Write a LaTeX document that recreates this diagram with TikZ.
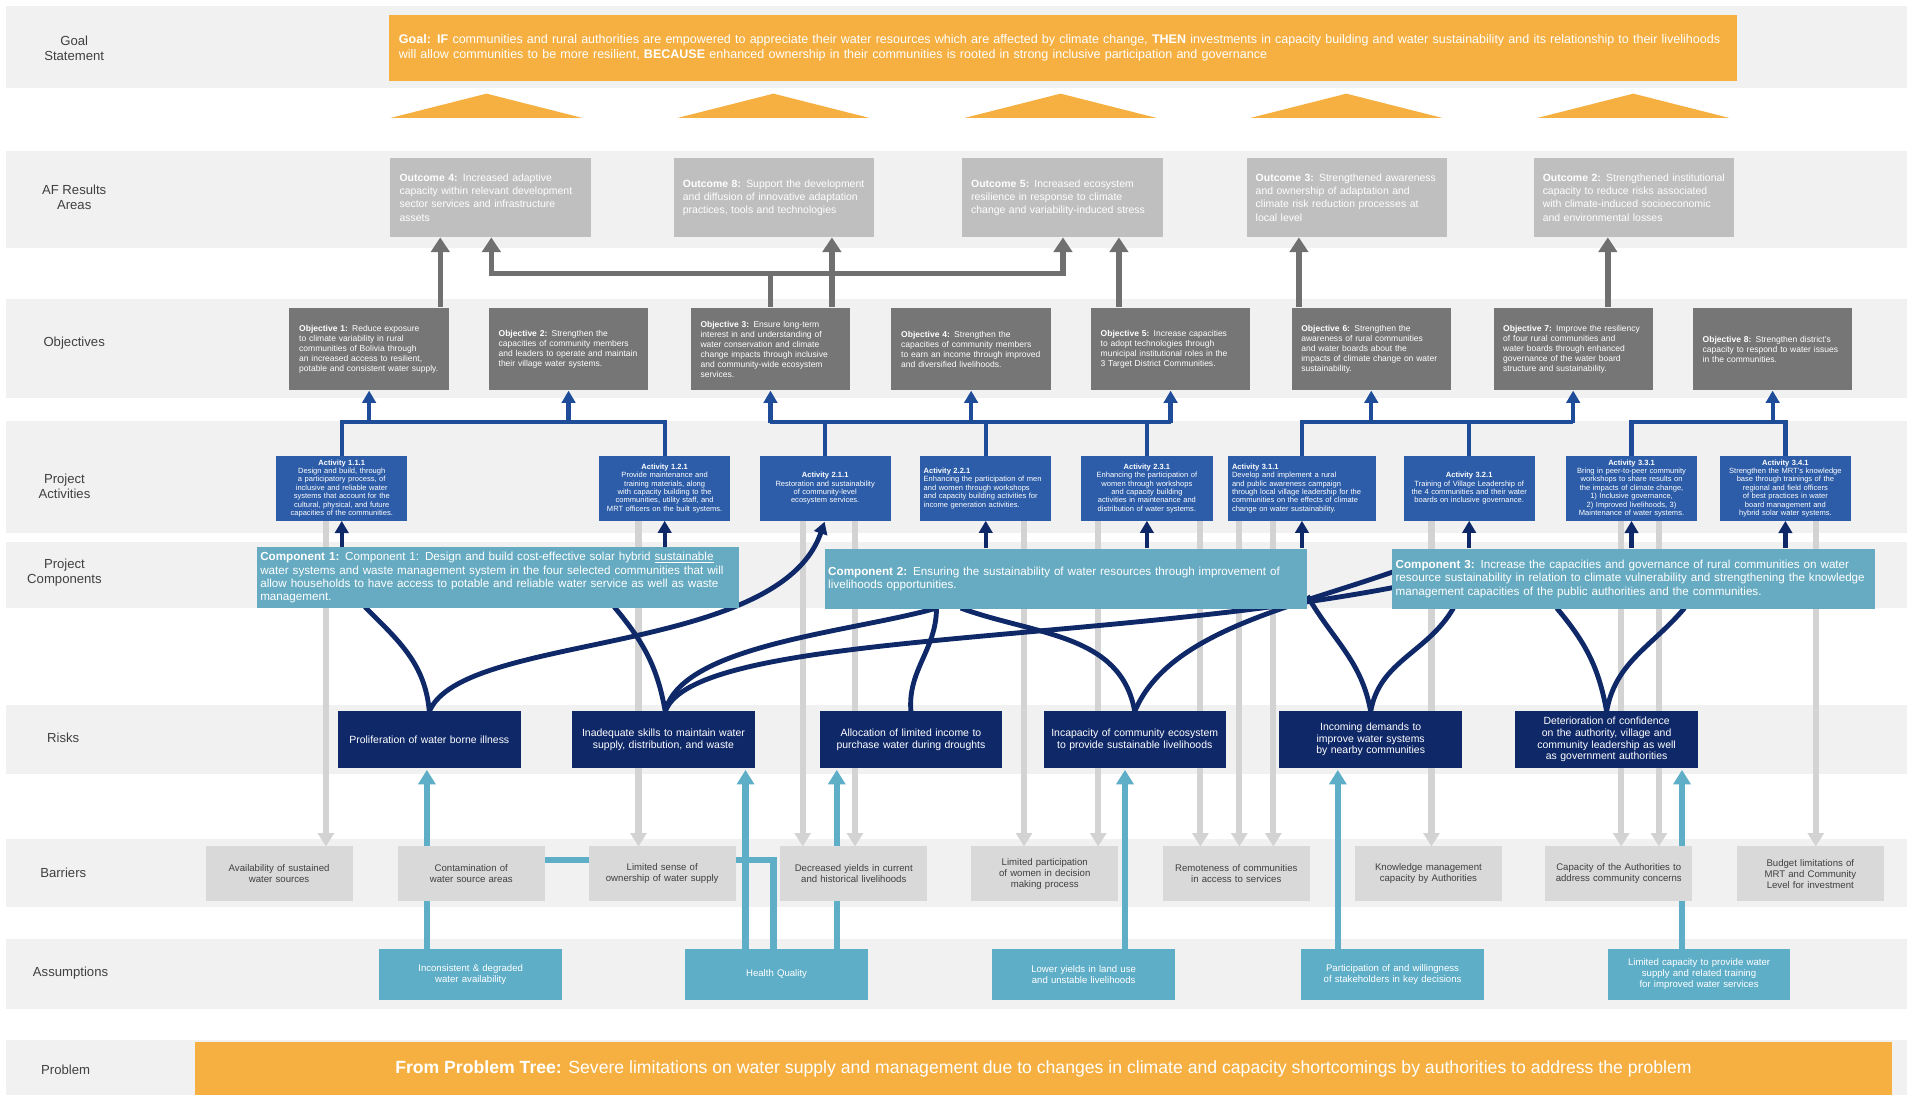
\documentclass[tikz,border=0pt]{standalone}
\usepackage{fontspec}
\setmainfont{Liberation Sans}
\usetikzlibrary{arrows.meta,positioning,calc}
\hyphenpenalty=10000
\exhyphenpenalty=10000

\definecolor{bandgray}{RGB}{241,241,241}
\definecolor{labelgray}{RGB}{64,64,64}
\definecolor{goalorange}{RGB}{245,176,65}
\definecolor{outgray}{RGB}{191,191,191}
\definecolor{objgray}{RGB}{118,118,118}
\definecolor{arrowgray}{RGB}{112,112,112}
\definecolor{actblue}{RGB}{45,93,168}
\definecolor{linkblue}{RGB}{31,76,152}
\definecolor{compteal}{RGB}{102,171,193}
\definecolor{risknavy}{RGB}{15,40,104}
\definecolor{barriergray}{RGB}{217,217,217}
\definecolor{lightline}{RGB}{211,211,211}
\definecolor{assumteal}{RGB}{94,174,200}

\tikzset{band/.style={fill=bandgray, draw=none},           % Row background
         rowlabel/.style={text=labelgray, align=center,
           font=\fontsize{10.8}{12.5}\selectfont},
         outcome/.style={fill=outgray, text=white, align=left,
           minimum width=165pt, minimum height=65pt, text width=150pt, inner sep=4pt,
           font=\fontsize{8.6}{10.8}\selectfont},
         objective/.style={fill=objgray, text=white, align=left,
           minimum width=131pt, minimum height=68pt, text width=115pt, inner sep=4pt,
           font=\fontsize{7}{8.2}\selectfont},
         activity/.style={fill=actblue, text=white, align=center,
           minimum width=108pt, minimum height=53pt, text width=102pt, inner sep=3pt,
           font=\fontsize{6.2}{6.9}\selectfont},
         component/.style={fill=compteal, text=white, align=left,
           minimum height=50pt, text width=391pt, inner sep=3pt,
           font=\fontsize{9.6}{11}\selectfont},
         risk/.style={fill=risknavy, text=white, align=center,
           minimum width=150pt, minimum height=47pt, text width=140pt, inner sep=4pt,
           font=\fontsize{8.6}{9.6}\selectfont},
         barrier/.style={fill=barriergray, text=labelgray, align=center,
           minimum width=121pt, minimum height=45pt, text width=108pt, inner sep=4pt,
           font=\fontsize{7.9}{9}\selectfont},
         assumption/.style={fill=assumteal, text=white, align=center,
           minimum width=150pt, minimum height=42pt, text width=130pt, inner sep=4pt,
           font=\fontsize{7.9}{9}\selectfont},
         % connectors
         grayline/.style={draw=arrowgray, line width=4.5pt},
         grayup/.style={grayline, -{Triangle[width=15pt,length=12pt]}},
         linkline/.style={draw=linkblue, line width=3.5pt},
         linkup/.style={linkline, -{Triangle[width=11pt,length=10pt]}},
         navyup/.style={draw=risknavy, line width=3.5pt, -{Triangle[width=11pt,length=10pt]}},
         riskcurve/.style={draw=risknavy, line width=4pt},
         lightdown/.style={draw=lightline, line width=5pt, -{Triangle[width=13pt,length=11pt]}},
         tealline/.style={draw=assumteal, line width=5pt},
         tealup/.style={tealline, -{Triangle[width=14pt,length=12pt]}}}

\begin{document}
\begin{tikzpicture}[x=1pt,y=-1pt]
\useasboundingbox (0,0) rectangle (1568,900);

% row bands
\foreach \ya/\yb in {5/72,124/204,246/327,346/438,446/500,580/636,690/746,772/830,855/900}
  \fill[band] (5,\ya) rectangle (1568,\yb);

% row labels
\node[rowlabel] (lblgoal) at (61,40)  {Goal\\Statement};
\node[rowlabel] (lblaf)   at (61,162) {AF Results\\Areas};
\node[rowlabel] (lblobj)  at (61,282) {Objectives};
\node[rowlabel] (lblact)  at (53,400) {Project\\Activities};
\node[rowlabel] (lblcomp) at (53,471) {Project\\Components};
\node[rowlabel] (lblrisk) at (52,607) {Risks};
\node[rowlabel] (lblbar)  at (52,718) {Barriers};
\node[rowlabel] (lblasm)  at (58,800) {Assumptions};
\node[rowlabel] (lblprob) at (54,880) {Problem};

% goal and problem bars
\node[fill=goalorange, text=white, align=left, minimum width=1108pt, minimum height=55pt,
      text width=1092pt, inner sep=8pt, font=\fontsize{10.3}{12}\selectfont]
  (goal) at (874,39.5) {\textbf{Goal: IF} communities and rural authorities are empowered to appreciate their water resources which are affected by climate change, \textbf{THEN} investments in capacity building and water sustainability and its relationship to their livelihoods\\
  will allow communities to be more resilient, \textbf{BECAUSE} enhanced ownership in their communities is rooted in strong inclusive participation and governance};
\node[fill=goalorange, text=white, minimum width=1396pt, minimum height=43pt, inner sep=0pt,
      font=\fontsize{14.5}{16}\selectfont]
  (problem) at (858,878.5) {\textbf{From Problem Tree:} Severe limitations on water supply and management due to changes in climate and capacity shortcomings by authorities to address the problem};

% triangles under the goal
\foreach \x in {400,636,872,1107,1343}
  \fill[goalorange] (\x-79,97) -- (\x,77) -- (\x+79,97) -- cycle;

% light gray lines from activities down to barriers (behind everything)
\foreach \x in {268,525,660,703,842,903,987,1019,1047,1177,1333,1364,1493}
  \draw[lightdown] (\x,428) -- (\x,696);

% assumptions up to risks
\draw[tealup] (351,780) -- (351,633);
\draw[tealline] (636,780) -- (636,707) -- (351,707);
\draw[tealup] (613,780) -- (613,633);
\draw[tealup] (688,780) -- (688,633);
\draw[tealup] (925,780) -- (925,633);
\draw[tealup] (1100,780) -- (1100,633);
\draw[tealup] (1383,780) -- (1383,633);

% risks curving up to components
\draw[riskcurve] (353,585) to[out=95,in=-45] (300,499);
\draw[riskcurve, -{Triangle[width=11pt,length=10pt]}] (353,585) .. controls (380,520) and (640,540) .. (678,429);
\draw[riskcurve] (547,585) to[out=100,in=-50] (505,499);
\draw[riskcurve] (547,585) .. controls (560,530) and (700,520) .. (770,500);
\draw[riskcurve] (547,585) .. controls (570,520) and (900,530) .. (1146,483);
\draw[riskcurve] (749,585) to[out=95,in=-90] (770,500);
\draw[riskcurve] (933,585) to[out=100,in=-20] (790,500);
\draw[riskcurve] (933,585) .. controls (960,520) and (1060,500) .. (1146,470);
\draw[riskcurve] (1127,585) to[out=100,in=-60] (1075,490);
\draw[riskcurve] (1127,585) to[out=80,in=-120] (1195,500);
\draw[riskcurve] (1321,585) to[out=100,in=-50] (1280,500);
\draw[riskcurve] (1321,585) to[out=80,in=-130] (1385,500);

% AF results areas
\node[outcome] (out4) at (403.5,162.5)  {\textbf{Outcome 4:} Increased adaptive capacity within relevant development sector services and infrastructure assets};
\node[outcome] (out8) at (636.5,162.5)  {\textbf{Outcome 8:} Support the development and diffusion of innovative adaptation practices, tools and technologies};
\node[outcome] (out5) at (873.5,162.5)  {\textbf{Outcome 5:} Increased ecosystem resilience in response to climate change and variability-induced stress};
\node[outcome] (out3) at (1107.5,162.5) {\textbf{Outcome 3:} Strengthened awareness and ownership of adaptation and climate risk reduction processes at local level};
\node[outcome] (out2) at (1343.5,162.5) {\textbf{Outcome 2:} Strengthened institutional capacity to reduce risks associated with climate-induced socioeconomic and environmental losses};

% objectives
\node[objective] (obj1) at (303.5,287)  {\textbf{Objective 1:} Reduce exposure to climate variability in rural communities of Bolivia through an increased access to resilient, potable and consistent water supply.};
\node[objective] (obj2) at (467.5,287)  {\textbf{Objective 2:} Strengthen the capacities of community members and leaders to operate and maintain their village water systems.};
\node[objective] (obj3) at (633.5,287)  {\textbf{Objective 3:} Ensure long-term interest in and understanding of water conservation and climate change impacts through inclusive and community-wide ecosystem services.};
\node[objective] (obj4) at (798.5,287)  {\textbf{Objective 4:} Strengthen the capacities of community members to earn an income through improved and diversified livelihoods.};
\node[objective] (obj5) at (962.5,287)  {\textbf{Objective 5:} Increase capacities to adopt technologies through municipal institutional roles in the 3 Target District Communities.};
\node[objective] (obj6) at (1127.5,287) {\textbf{Objective 6:} Strengthen the awareness of rural communities and water boards about the impacts of climate change on water sustainability.};
\node[objective] (obj7) at (1293.5,287) {\textbf{Objective 7:} Improve the resiliency of four rural communities and water boards through enhanced governance of the water board structure and sustainability.};
\node[objective] (obj8) at (1457.5,287) {\textbf{Objective 8:} Strengthen district's capacity to respond to water issues in the communities.};

% project activities
\node[activity] (act1) at (281,401.5)    {\textbf{Activity 1.1.1}\\Design and build, through a participatory process, of inclusive and reliable water systems that account for the cultural, physical, and future capacities of the communities.};
\node[activity] (act2) at (546.5,401.5)  {\textbf{Activity 1.2.1}\\Provide maintenance and training materials, along with capacity building to the communities, utility staff, and MRT officers on the built systems.};
\node[activity] (act3) at (678.5,401.5)  {\textbf{Activity 2.1.1}\\Restoration and sustainability of community-level ecosystem services.};
\node[activity, align=left] (act4) at (810.5,401.5) {\textbf{Activity 2.2.1}\\Enhancing the participation of men and women through workshops and capacity building activities for income generation activities.};
\node[activity] (act5) at (943,401.5)    {\textbf{Activity 2.3.1}\\Enhancing the participation of women through workshops and capacity building activities in maintenance and distribution of water systems.};
\node[activity, align=left, minimum width=121pt, text width=115pt] (act6) at (1070.5,401.5) {\textbf{Activity 3.1.1}\\Develop and implement a rural and public awareness campaign through local village leadership for the communities on the effects of climate change on water sustainability.};
\node[activity] (act7) at (1208,401.5)   {\textbf{Activity 3.2.1}\\Training of Village Leadership of the 4 communities and their water boards on inclusive governance.};
\node[activity] (act8) at (1341.5,401.5) {\textbf{Activity 3.3.1}\\Bring in peer-to-peer community workshops to share results on the impacts of climate change, 1) Inclusive governance, 2) Improved livelihoods, 3) Maintenance of water systems.};
\node[activity] (act9) at (1468,401.5)   {\textbf{Activity 3.4.1}\\Strengthen the MRT's knowledge base through trainings of the regional and field officers of best practices in water board management and hybrid solar water systems.};

% project components
\node[component] (comp1) at (409.5,475) {\textbf{Component 1:} Component 1: Design and build cost-effective solar hybrid \underline{sustainable} water systems and waste management system in the four selected communities that will allow households to have access to potable and reliable water service as well as waste management.};
\node[component] (comp2) at (876.5,476) {\textbf{Component 2:} Ensuring the sustainability of water resources through improvement of livelihoods opportunities.};
\node[component] (comp3) at (1343,476)  {\textbf{Component 3:} Increase the capacities and governance of rural communities on water resource sustainability in relation to climate vulnerability and strengthening the knowledge management capacities of the public authorities and the communities.};

% risks
\node[risk] (risk1) at (353,608)   {Proliferation of water borne illness};
\node[risk] (risk2) at (545.5,608) {Inadequate skills to maintain water supply, distribution, and waste};
\node[risk] (risk3) at (749,608)   {Allocation of limited income to purchase water during droughts};
\node[risk] (risk4) at (933,608)   {Incapacity of community ecosystem to provide sustainable livelihoods};
\node[risk] (risk5) at (1127,608)  {Incoming demands to improve water systems by nearby communities};
\node[risk] (risk6) at (1321,608)  {Deterioration of confidence on the authority, village and community leadership as well as government authorities};

% barriers
\node[barrier] (bar1) at (229.5,718.5)  {Availability of sustained water sources};
\node[barrier] (bar2) at (387.5,718.5)  {Contamination of water source areas};
\node[barrier] (bar3) at (544.5,718.5)  {Limited sense of ownership of water supply};
\node[barrier] (bar4) at (702,718.5)    {Decreased yields in current and historical livelihoods};
\node[barrier] (bar5) at (859,718.5)    {Limited participation of women in decision making process};
\node[barrier] (bar6) at (1016.5,718.5) {Remoteness of communities in access to services};
\node[barrier] (bar7) at (1174.5,718.5) {Knowledge management capacity by Authorities};
\node[barrier] (bar8) at (1331,718.5)   {Capacity of the Authorities to address community concerns};
\node[barrier] (bar9) at (1488.5,718.5) {Budget limitations of MRT and Community Level for investment};

% assumptions
\node[assumption] (asm1) at (387,801)   {Inconsistent \& degraded water availability};
\node[assumption] (asm2) at (638.5,801) {Health Quality};
\node[assumption] (asm3) at (891,801)   {Lower yields in land use and unstable livelihoods};
\node[assumption] (asm4) at (1145,801)  {Participation of and willingness of stakeholders in key decisions};
\node[assumption] (asm5) at (1397,801)  {Limited capacity to provide water supply and related training for improved water services};

% objectives up to AF results areas
\draw[grayup] (362,0 |- obj1.north) -- (362,0 |- out4.south);
\draw[grayline] (obj3.north) -- (obj3.north |- 0,225);
\draw[grayup] (obj3.north |- 0,225) -| (404,0 |- out4.south);
\draw[grayup] (obj3.north |- 0,225) -| (874,0 |- out5.south);
\draw[grayup] (684,0 |- obj3.north) -- (684,0 |- out8.south);
\draw[grayup] (920,0 |- obj5.north) -- (920,0 |- out5.south);
\draw[grayup] (1068,0 |- obj6.north) -- (1068,0 |- out3.south);
\draw[grayup] (1322,0 |- obj7.north) -- (1322,0 |- out2.south);

% activities up to objectives
\draw[linkline] (act1.north) -- (act1.north |- 0,347) -| (act2.north);
\draw[linkline] (act3.north) -- (act3.north |- 0,347);
\draw[linkline] (act4.north) -- (act4.north |- 0,347);
\draw[linkline] (act5.north) -- (act5.north |- 0,347);
\draw[linkline] (obj3.south |- 0,347) -- (obj5.south |- 0,347);
\draw[linkline] (act6.north) -- (act6.north |- 0,347) -| (obj7.south |- 0,347);
\draw[linkline] (act7.north) -- (act7.north |- 0,347);
\draw[linkline] (act8.north) -- (act8.north |- 0,347) -| (act9.north);
\foreach \o in {obj1,obj2,obj3,obj4,obj5,obj6,obj7,obj8}
  \draw[linkup] (\o.south |- 0,348) -- (\o.south);

% components up to activities
\foreach \a/\c in {act1/comp1, act2/comp1, act4/comp2, act5/comp2, act6/comp2,
                   act7/comp3, act8/comp3, act9/comp3}
  \draw[navyup] (\a.south |- \c.north) -- (\a.south);

\end{tikzpicture}
\end{document}
